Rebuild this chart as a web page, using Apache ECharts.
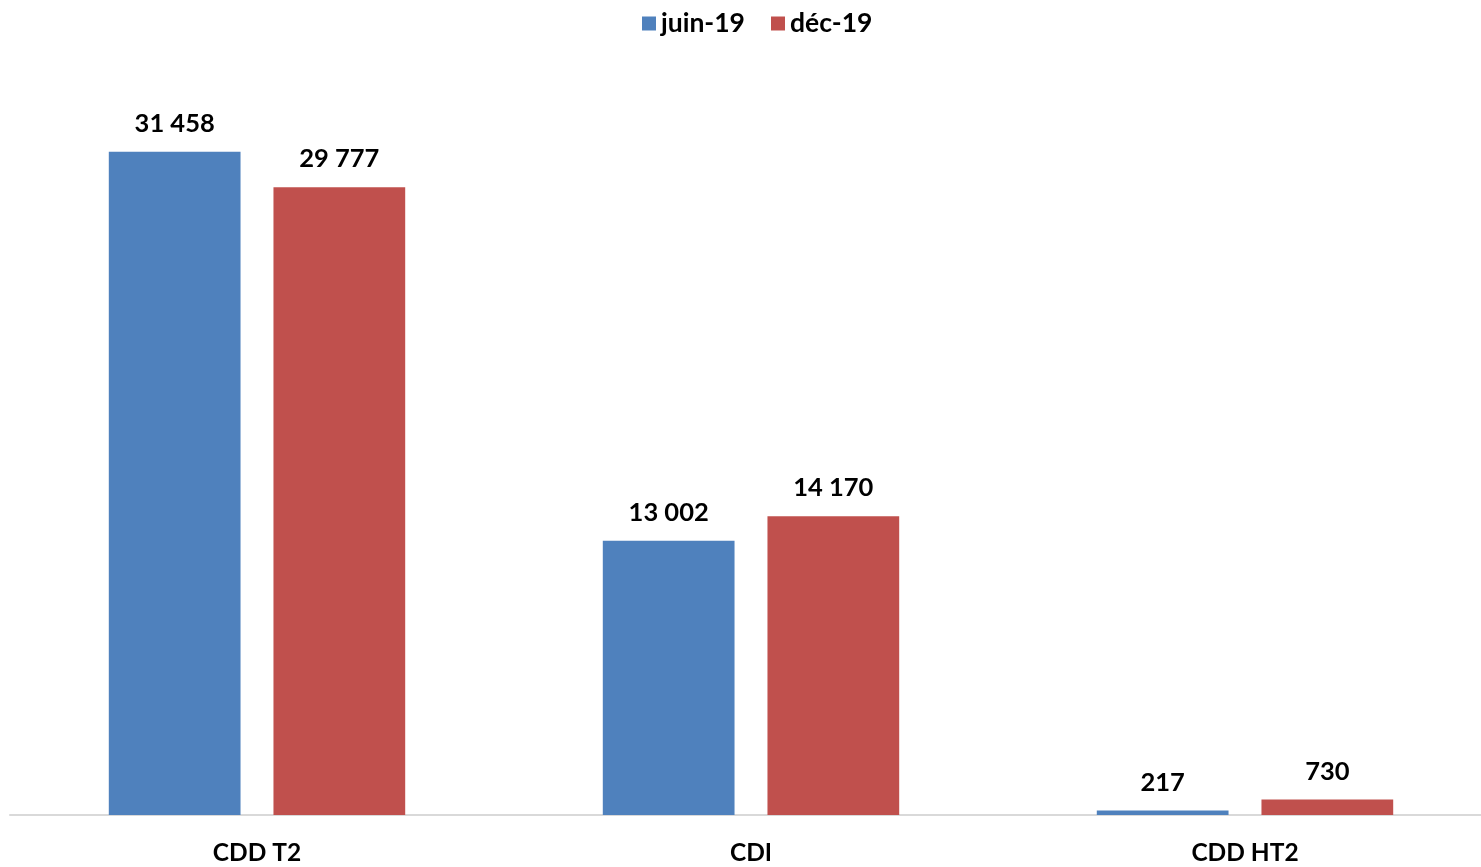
<!DOCTYPE html>
<html><head><meta charset="utf-8">
<script src="https://cdn.jsdelivr.net/npm/echarts@6/dist/echarts.min.js"></script>
<style>html,body{margin:0;padding:0;background:#fff;overflow:hidden;width:1481px;height:867px}#c{width:1492px;height:867px}</style>
</head><body><div id="c"></div>
<script>
const categories = ['CDD T2', 'CDI', 'CDD HT2'];
const seriesNames = ['juin-19', 'déc-19'];
const juin19 = [31458, 13002, 217];
const dec19 = [29777, 14170, 730];
const colors = ['#4F81BD', '#C0504D'];
const FONT = 'Lato';
function fmt(v){ return String(v).replace(/\B(?=(\d{3})+(?!\d))/g, ' '); }
const chart = echarts.init(document.getElementById('c'));
const lbl = {show:true, position:'top', distance:15, fontFamily:FONT, fontWeight:'bold', fontSize:25.5, color:'#000', formatter:p=>fmt(p.value)};
chart.setOption({
  animation:false,
  color:colors,
  legend:{top:5, left:637, itemWidth:14, itemHeight:14, itemGap:26, icon:'rect',
    textStyle:{fontFamily:FONT, fontWeight:'bold', fontSize:26.5, color:'#000'}, data:seriesNames},
  grid:{left:10, right:0, top:77, bottom:52, containLabel:false},
  xAxis:{type:'category', data:categories, axisTick:{show:false},
    axisLine:{lineStyle:{color:'#d9d9d9', width:2}},
    axisLabel:{fontFamily:FONT, fontWeight:'bold', fontSize:24.5, color:'#000', margin:26}},
  yAxis:{type:'value', min:0, max:35000, show:false, splitLine:{show:false}},
  series:[
    {name:seriesNames[0], type:'bar', data:juin19, barGap:'25%', barCategoryGap:'40%', label:lbl},
    {name:seriesNames[1], type:'bar', data:dec19, label:lbl}
  ]
});
</script></body></html>
